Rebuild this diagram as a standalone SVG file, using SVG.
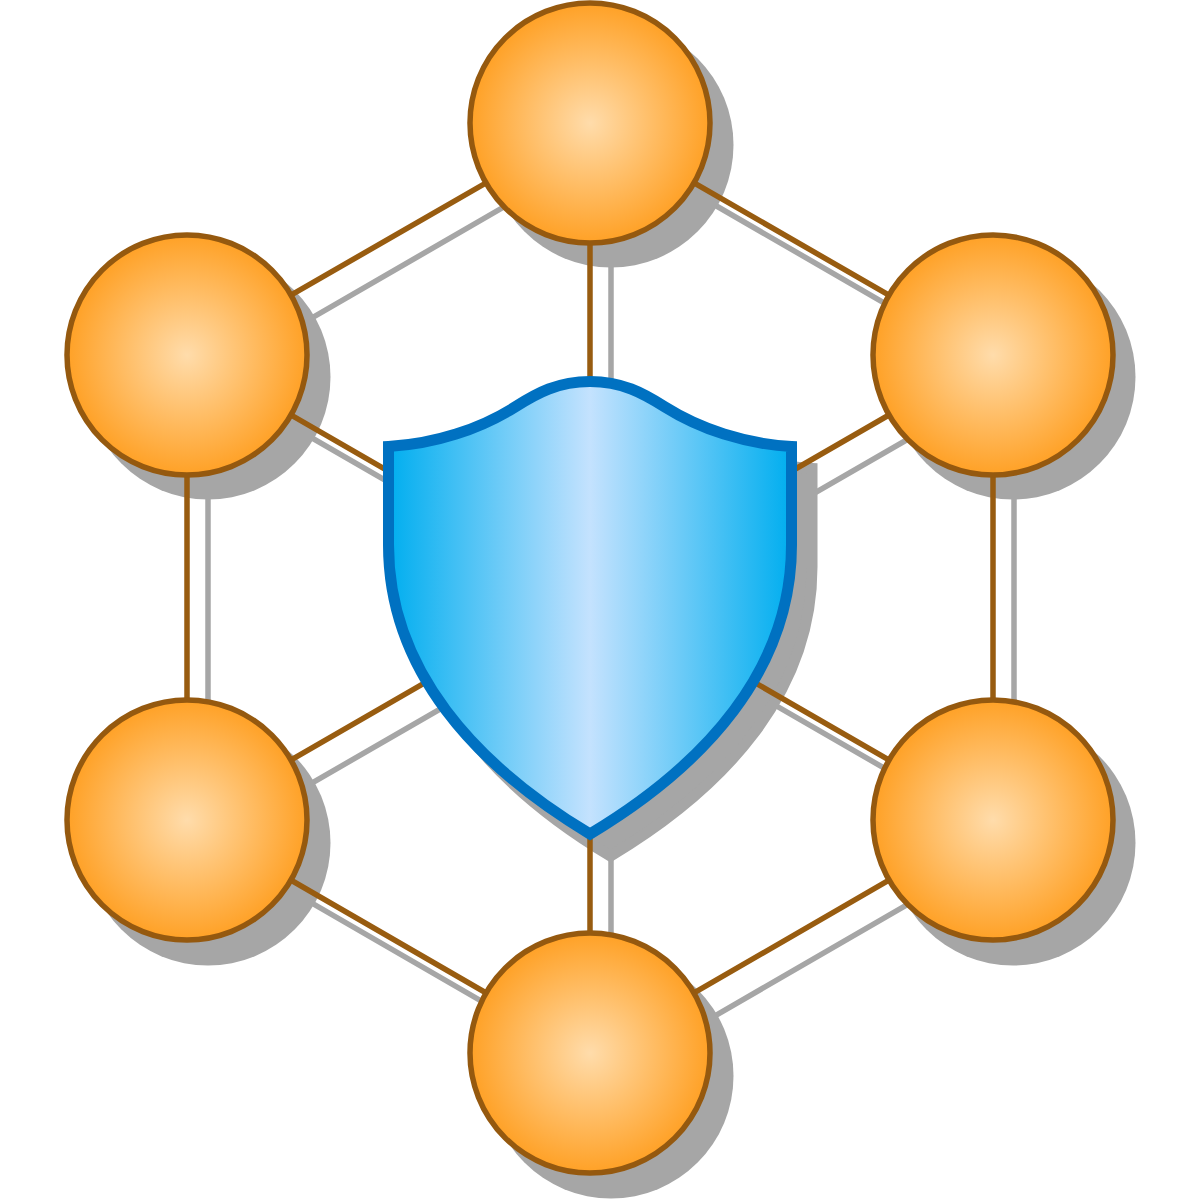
<svg xmlns="http://www.w3.org/2000/svg" width="1200" height="1200" viewBox="0 0 1200 1200">
<defs>
<radialGradient id="orb"><stop offset="0" stop-color="#ffdcab"/><stop offset="1" stop-color="#ffa126"/></radialGradient>
<linearGradient id="sh" x1="0" x2="1" y1="0" y2="0"><stop offset="0" stop-color="#00aeef"/><stop offset="0.5" stop-color="#c4e2fe"/><stop offset="1" stop-color="#00aeef"/></linearGradient>
<path id="shield" d="M590 381.500C558 381.500 537 393 515 407C480 429 435 444 388.500 446.500V545C388.500 670 475 765 590 834C705 765 791.500 670 791.500 545V446.500C745 444 700 429 665 407C643 393 622 381.500 590 381.500Z"/>
</defs>
<style>
.sl{stroke:#a6a6a6;stroke-width:5.500;fill:none}
.l{stroke:#985c10;stroke-width:5.500;fill:none}
.s{fill:#a6a6a6}
.o{fill:url(#orb);stroke:#95590f;stroke-width:5.500}
</style>
<rect width="1200" height="1200" fill="#fff"/>
<g id="connectors-shadow">
<path class="sl" d="M611 145L1014 378V843L611 1076L208 843V378ZM611 145V1076M208 378L1014 843M1014 378L208 843"/>
</g>
<g id="shadows">
<circle class="s" cx="611" cy="145" r="122.500"/><circle class="s" cx="208" cy="377" r="122.500"/><circle class="s" cx="1013" cy="377" r="122.500"/><circle class="s" cx="208" cy="843" r="122.500"/><circle class="s" cx="1013" cy="843" r="122.500"/><circle class="s" cx="611" cy="1076" r="122.500"/>
<use href="#shield" x="20.500" y="22" fill="#a6a6a6" stroke="#a6a6a6" stroke-width="11"/>
</g>
<g id="connectors">
<path class="l" d="M590 123L993 355V820L590 1053L187 820V355ZM590 123V1053M187 355L993 820M993 355L187 820"/>
</g>
<g id="node-top"><circle class="o" cx="590" cy="123" r="120"/></g>
<g id="node-ul"><circle class="o" cx="187" cy="355" r="120"/></g>
<g id="node-ur"><circle class="o" cx="993" cy="355" r="120"/></g>
<g id="node-ll"><circle class="o" cx="187" cy="820" r="120"/></g>
<g id="node-lr"><circle class="o" cx="993" cy="820" r="120"/></g>
<g id="node-bottom"><circle class="o" cx="590" cy="1053" r="120"/></g>
<g id="node-shield">
<use href="#shield" fill="url(#sh)" stroke="#0071c1" stroke-width="11"/>
</g>
</svg>
